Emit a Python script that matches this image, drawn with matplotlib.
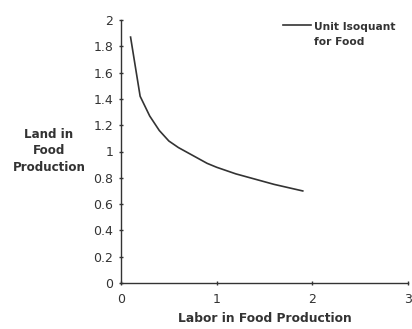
import numpy as np
import matplotlib
matplotlib.use('Agg')
import matplotlib.pyplot as plt

# isoquant
labor = [0.1, 0.2, 0.3, 0.4, 0.5, 0.6, 0.7, 0.8, 0.9, 1.0, 1.2, 1.4, 1.6, 1.9]
land = [1.87, 1.42, 1.27, 1.16, 1.08, 1.03, 0.99, 0.95, 0.91, 0.88, 0.83, 0.79, 0.75, 0.70]
x_ticks = [0, 1, 2, 3]
y_ticks = [0, 0.2, 0.4, 0.6, 0.8, 1, 1.2, 1.4, 1.6, 1.8, 2]

ink = '#333333'
plt.rcParams['font.family'] = ['DejaVu Sans']

fig = plt.figure(figsize=(4.12, 3.29), dpi=100)
ax = fig.add_axes([121 / 412, 1 - 283 / 329, 287 / 412, 263 / 329])
ax.plot(labor, land, color=ink, linewidth=1.2, label='Unit Isoquant\nfor Food')

ax.set_xlim(0, 3)
ax.set_ylim(0, 2)
ax.set_xticks(x_ticks)
ax.set_yticks(y_ticks)
ax.set_yticklabels([('%g' % v) for v in y_ticks])
for side in ['top', 'right']:
    ax.spines[side].set_visible(False)
for side in ['left', 'bottom']:
    ax.spines[side].set_color(ink)
    ax.spines[side].set_linewidth(1.0)
ax.tick_params(axis='both', colors=ink, labelsize=9, length=3, width=1.0, direction='inout')
ax.tick_params(axis='y', pad=4)
ax.tick_params(axis='x', pad=6)

ax.set_xlabel('Labor in Food Production', fontsize=8.8, fontweight='bold', color=ink, labelpad=4)
fig.text(49 / 412, 1 - 151 / 329, 'Land in\nFood\nProduction', ha='center', va='center',
         fontsize=8.6, fontweight='bold', color=ink, linespacing=1.35)

leg = ax.legend(loc='upper left', bbox_to_anchor=(158 / 287, 1.01), frameon=False,
                fontsize=7.7, handlelength=2.6, handletextpad=0.3, borderaxespad=0)
for t in leg.get_texts():
    t.set_color(ink)
    t.set_fontweight('bold')
    t.set_linespacing(1.7)
# keep the legend line level with the first text line
h = leg.legend_handles[0]
h.set_ydata(np.asarray(h.get_ydata()) + 7)

fig.savefig('out.png', dpi=100)
